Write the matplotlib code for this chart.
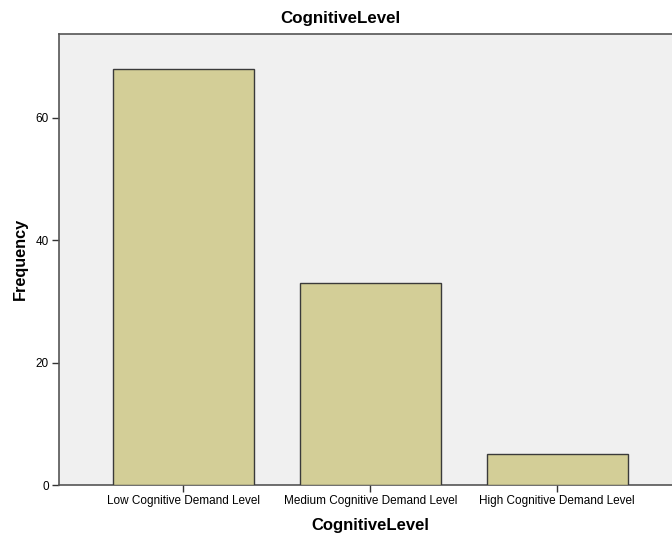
import matplotlib
matplotlib.use("Agg")
import matplotlib.pyplot as plt

categories = ["Low Cognitive Demand Level", "Medium Cognitive Demand Level", "High Cognitive Demand Level"]
frequencies = [68, 33, 5]
yticks = [0, 20, 40, 60]

plt.rcParams['font.family'] = ['Liberation Sans', 'DejaVu Sans']

W, H = 672, 535
fig = plt.figure(figsize=(W / 100, H / 100), dpi=100)
left_px, right_px, top_px, bottom_px = 58.7, 682, 33.5, 485
ax = fig.add_axes([left_px / W, (H - bottom_px) / H, (right_px - left_px) / W, (bottom_px - top_px) / H])
ax.set_facecolor('#F0F0F0')

x = list(range(len(categories)))
ax.bar(x, frequencies, width=0.754, color='#D3CE97', edgecolor='#3A3A3A', linewidth=1.0, zorder=3)

ax.set_xlim(-0.667, 2.667)
ax.set_ylim(0, 73.8)
ax.set_xticks(x)
ax.set_xticklabels(categories, fontsize=8.5)
ax.set_yticks(yticks)
ax.set_yticklabels([str(v) for v in yticks], fontsize=8.5)
for s in ax.spines.values():
    s.set_color('#555555')
    s.set_linewidth(1.2)
ax.tick_params(axis='both', direction='out', length=5, width=1, color='#333333', pad=2)

fig.text(340.5 / W, 1 - 19 / H, 'CognitiveLevel', fontsize=12.2, fontweight='bold',
         ha='center', va='center')
ax.set_xlabel('CognitiveLevel', fontsize=12, fontweight='bold', labelpad=8)
ax.set_ylabel('Frequency', fontsize=11.7, fontweight='bold', labelpad=6)

fig.savefig('out.png', dpi=100, facecolor='white')
